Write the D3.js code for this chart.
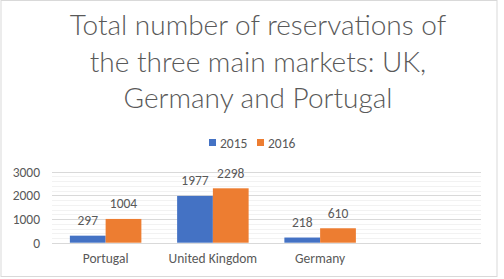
<!DOCTYPE html>
<html>
<head>
<meta charset="utf-8">
<script src="https://d3js.org/d3.v7.min.js"></script>
<style>
  body { margin: 0; background: #fff; }
  svg text { font-family: Carlito, "Open Sans", "Liberation Sans", sans-serif; fill: #595959; }
  .title { font-family: "Lato", "Open Sans", sans-serif; font-weight: 300; }
</style>
</head>
<body>
<svg width="504" height="279"></svg>
<script>
// chart data
var categories = ["Portugal", "United Kingdom", "Germany", ""];
var years = ["2015", "2016"];
var values2015 = [297, 1977, 218];
var values2016 = [1004, 2298, 610];
var yTicks = [0, 1000, 2000, 3000];
var titleLines = ["Total number of reservations of", "the three main markets: UK,", "Germany and Portugal"];

var colors = ["#4472C4", "#ED7D31"];
var series = [values2015, values2016];

var svg = d3.select("svg");

// chart border
svg.append("rect")
    .attr("x", 1).attr("y", 0.5)
    .attr("width", 496).attr("height", 276)
    .attr("fill", "#fff").attr("stroke", "#d9d9d9");

// title
svg.append("g").selectAll("text")
    .data(titleLines)
    .enter().append("text")
    .attr("class", "title")
    .attr("x", 258)
    .attr("y", function (d, i) { return 35 + i * 36.5; })
    .attr("text-anchor", "middle")
    .style("font-size", "28px")
    .text(function (d) { return d; });

var x = d3.scaleBand().domain(categories).range([52, 481]);
var x1 = d3.scaleBand().domain(years).range([0, x.bandwidth()]).paddingInner(0).paddingOuter(0.5);
var y = d3.scaleLinear().domain([0, 3000]).range([242.7, 171.7]);

// minor gridlines
svg.append("g").selectAll("line")
    .data(d3.range(200, 3000, 200).filter(function (v) { return v % 1000 !== 0; }))
    .enter().append("line")
    .attr("x1", 52).attr("x2", 481)
    .attr("y1", function (d) { return Math.round(y(d)) + 0.5; })
    .attr("y2", function (d) { return Math.round(y(d)) + 0.5; })
    .attr("stroke", "#f2f2f2");

// major gridlines
svg.append("g").selectAll("line")
    .data(yTicks)
    .enter().append("line")
    .attr("x1", 52).attr("x2", 481)
    .attr("y1", function (d) { return Math.round(y(d)) + 0.5; })
    .attr("y2", function (d) { return Math.round(y(d)) + 0.5; })
    .attr("stroke", "#d9d9d9");

// y axis labels
var yAxis = svg.append("g")
    .attr("transform", "translate(40,0)")
    .call(d3.axisLeft(y).tickValues(yTicks).tickFormat(d3.format("d")).tickSize(0).tickPadding(0));
yAxis.select(".domain").remove();
yAxis.selectAll("text").style("font-size", "13.5px").attr("font-family", null);

// x axis labels
var xAxis = svg.append("g")
    .attr("transform", "translate(0,253)")
    .call(d3.axisBottom(x).tickSize(0).tickPadding(0));
xAxis.select(".domain").remove();
xAxis.selectAll("text").style("font-size", "13.5px").attr("font-family", null);

// bars + labels
series.forEach(function (vals, s) {
  var g = svg.append("g");
  g.selectAll("rect")
      .data(vals)
      .enter().append("rect")
      .attr("x", function (d, i) { return x(categories[i]) + x1(years[s]); })
      .attr("y", function (d) { return y(d); })
      .attr("width", x1.bandwidth())
      .attr("height", function (d) { return y(0) - y(d); })
      .attr("fill", colors[s]);
  g.selectAll("text")
      .data(vals)
      .enter().append("text")
      .attr("x", function (d, i) { return x(categories[i]) + x1(years[s]) + x1.bandwidth() / 2; })
      .attr("y", function (d) { return y(d) - 10.5; })
      .attr("text-anchor", "middle")
      .style("font-size", "13.5px")
      .text(function (d) { return d; });
});

// legend
var legend = svg.append("g").selectAll("g")
    .data(years)
    .enter().append("g")
    .attr("transform", function (d, i) { return "translate(" + (209 + i * 48) + ",0)"; });
legend.append("rect")
    .attr("x", 0).attr("y", 139).attr("width", 7).attr("height", 7)
    .attr("fill", function (d, i) { return colors[i]; });
legend.append("text")
    .attr("x", 11).attr("y", 147.5)
    .style("font-size", "13.5px")
    .text(function (d) { return d; });
</script>
</body>
</html>
